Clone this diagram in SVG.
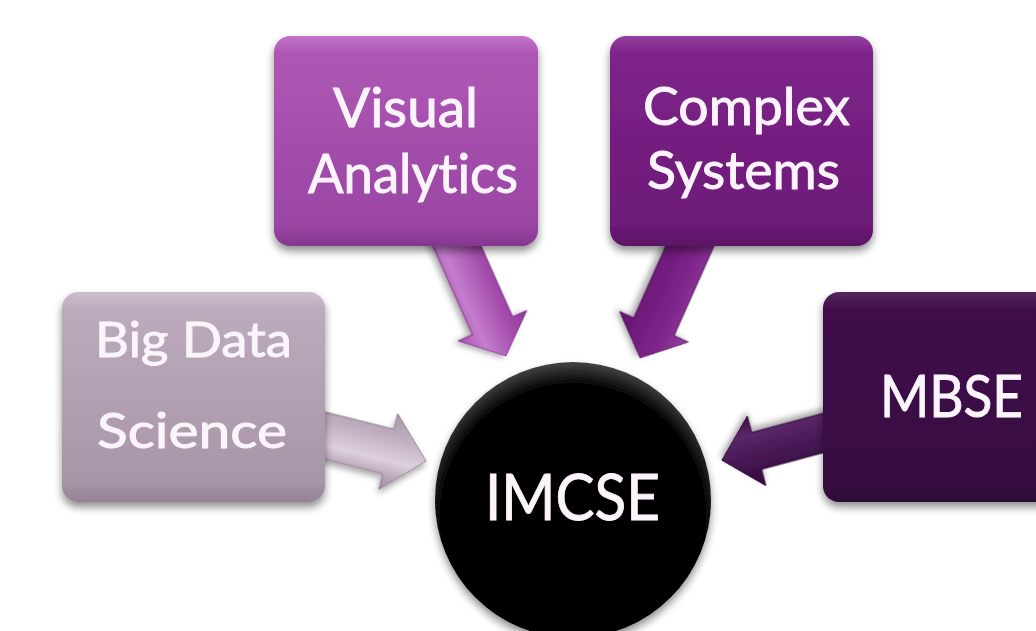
<svg xmlns="http://www.w3.org/2000/svg" width="1036" height="631" viewBox="0 0 1036 631">
<style>
  .lbl { font-family: Lato, "Open Sans", "Liberation Sans", sans-serif; fill: #fbf4fb; stroke: #fbf4fb; stroke-width: 0.9; font-variant-ligatures: none; font-feature-settings: "liga" 0; }
  .arrow { stroke-width: 1; stroke-linejoin: round; }
</style>
<defs>
  <filter id="shadow" x="-20%" y="-20%" width="140%" height="150%">
    <feGaussianBlur in="SourceAlpha" stdDeviation="4"/>
    <feOffset dx="0" dy="5" result="b"/>
    <feComponentTransfer><feFuncA type="linear" slope="0.45"/></feComponentTransfer>
    <feMerge><feMergeNode/><feMergeNode in="SourceGraphic"/></feMerge>
  </filter>
  <filter id="ashadow" x="-30%" y="-30%" width="160%" height="160%">
    <feGaussianBlur in="SourceAlpha" stdDeviation="3"/>
    <feOffset dx="0" dy="4" result="b"/>
    <feComponentTransfer><feFuncA type="linear" slope="0.35"/></feComponentTransfer>
    <feMerge><feMergeNode/><feMergeNode in="SourceGraphic"/></feMerge>
  </filter>
  <linearGradient id="gBig" x1="0" y1="0" x2="0" y2="1">
    <stop offset="0" stop-color="#cdbecd"/>
    <stop offset="0.08" stop-color="#bcabbc"/>
    <stop offset="0.9" stop-color="#a896a8"/>
    <stop offset="1" stop-color="#958395"/>
  </linearGradient>
  <linearGradient id="gVis" x1="0" y1="0" x2="0" y2="1">
    <stop offset="0" stop-color="#c374cb"/>
    <stop offset="0.08" stop-color="#ad58b5"/>
    <stop offset="0.9" stop-color="#9a45a3"/>
    <stop offset="1" stop-color="#853790"/>
  </linearGradient>
  <linearGradient id="gCom" x1="0" y1="0" x2="0" y2="1">
    <stop offset="0" stop-color="#9440a0"/>
    <stop offset="0.08" stop-color="#7d2389"/>
    <stop offset="0.9" stop-color="#6d1a78"/>
    <stop offset="1" stop-color="#5a1264"/>
  </linearGradient>
  <linearGradient id="gMb" x1="0" y1="0" x2="0" y2="1">
    <stop offset="0" stop-color="#55245f"/>
    <stop offset="0.08" stop-color="#3f104a"/>
    <stop offset="0.9" stop-color="#380d42"/>
    <stop offset="1" stop-color="#2b0834"/>
  </linearGradient>
  <radialGradient id="gCircle" cx="0.5" cy="0.56" r="0.56">
    <stop offset="0" stop-color="#000000"/>
    <stop offset="0.86" stop-color="#050505"/>
    <stop offset="1" stop-color="#444444"/>
  </radialGradient>
  <linearGradient id="aBig" x1="0" y1="0" x2="0" y2="1">
    <stop offset="0" stop-color="#a998a9"/>
    <stop offset="0.3" stop-color="#bfaebf"/>
    <stop offset="0.62" stop-color="#ddd0dd"/>
    <stop offset="0.8" stop-color="#bcaabc"/>
    <stop offset="1" stop-color="#9d8b9d"/>
  </linearGradient>
  <linearGradient id="aVis" x1="0" y1="0" x2="0" y2="1">
    <stop offset="0" stop-color="#8d3996"/>
    <stop offset="0.3" stop-color="#a44dad"/>
    <stop offset="0.7" stop-color="#c47dcc"/>
    <stop offset="1" stop-color="#a650ae"/>
  </linearGradient>
  <linearGradient id="aCom" x1="0" y1="0" x2="0" y2="1">
    <stop offset="0" stop-color="#9543a1"/>
    <stop offset="0.35" stop-color="#7e268a"/>
    <stop offset="0.75" stop-color="#6f1a7a"/>
    <stop offset="1" stop-color="#5f1269"/>
  </linearGradient>
  <linearGradient id="aMb" x1="0" y1="0" x2="0" y2="1">
    <stop offset="0" stop-color="#32093b"/>
    <stop offset="0.4" stop-color="#461653"/>
    <stop offset="0.75" stop-color="#5a2767"/>
    <stop offset="1" stop-color="#3b0f45"/>
  </linearGradient>
</defs>
<rect width="1036" height="631" fill="#ffffff"/>

<g id="connectors">
  <path class="arrow" filter="url(#ashadow)" fill="url(#aBig)" stroke="#8f7d8f" transform="translate(300,429.5) rotate(14)" d="M0,-23 H91 V-39 L130,0 L91,39 V23 H0 Z"/>
  <path class="arrow" filter="url(#ashadow)" fill="url(#aVis)" stroke="#7d2f86" transform="translate(449,228) rotate(66)" d="M0,-22 H107 V-37.5 L140,0 L107,37.5 V22 H0 Z"/>
  <path class="arrow" filter="url(#ashadow)" fill="url(#aCom)" stroke="#531060" transform="translate(697,230) rotate(114)" d="M0,-22 H106 V-37.5 L140,0 L106,37.5 V22 H0 Z"/>
  <path class="arrow" filter="url(#ashadow)" fill="url(#aMb)" stroke="#2a0632" transform="translate(857,424) rotate(165)" d="M0,-19 H104 V-36 L140,0 L104,36 V19 H0 Z"/>
</g>

<g id="node-big-data">
  <rect x="62" y="292" width="263" height="210" rx="16" fill="url(#gBig)" filter="url(#shadow)"/>
  <text class="lbl" x="95" y="357" font-size="48" textLength="197" lengthAdjust="spacingAndGlyphs">Big Data</text>
  <text class="lbl" x="97" y="448" font-size="48" textLength="190" lengthAdjust="spacingAndGlyphs">Science</text>
</g>

<g id="node-visual-analytics">
  <rect x="274" y="36" width="264" height="210" rx="16" fill="url(#gVis)" filter="url(#shadow)"/>
  <text class="lbl" x="333" y="127" font-size="54" textLength="145" lengthAdjust="spacingAndGlyphs">Visual</text>
  <text class="lbl" x="308" y="193" font-size="54" textLength="210" lengthAdjust="spacingAndGlyphs">Analytics</text>
</g>

<g id="node-complex-systems">
  <rect x="610" y="36" width="263" height="210" rx="16" fill="url(#gCom)" filter="url(#shadow)"/>
  <text class="lbl" x="643" y="125" font-size="53" textLength="207" lengthAdjust="spacingAndGlyphs">Complex</text>
  <text class="lbl" x="647" y="189" font-size="53" textLength="193" lengthAdjust="spacingAndGlyphs">Systems</text>
</g>

<g id="node-mbse">
  <rect x="823" y="292" width="240" height="210" rx="16" fill="url(#gMb)" filter="url(#shadow)"/>
  <text class="lbl" x="880" y="417" font-size="58" textLength="143" lengthAdjust="spacingAndGlyphs">MBSE</text>
</g>

<g id="node-imcse">
  <circle cx="573" cy="500" r="138" fill="url(#gCircle)" filter="url(#shadow)"/>
  <text class="lbl" x="485" y="520" font-size="63" textLength="175" lengthAdjust="spacingAndGlyphs">IMCSE</text>
</g>
</svg>
